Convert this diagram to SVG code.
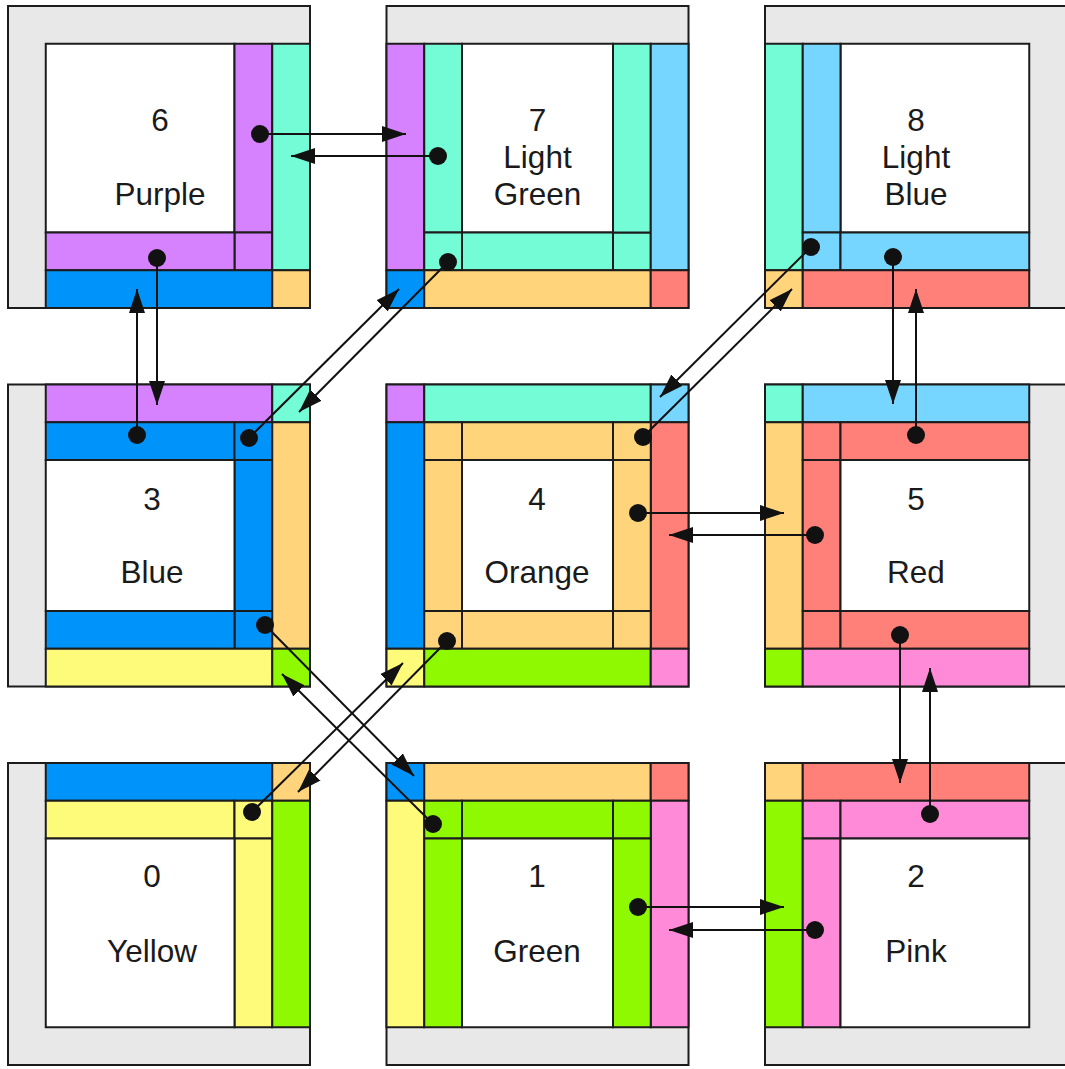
<svg xmlns="http://www.w3.org/2000/svg" width="1065" height="1069" viewBox="0 0 1065 1069">
<style>
rect{stroke:#1c1c1c;stroke-width:2}
.gy{fill:#e8e8e8}.w{fill:#ffffff}
.pu{fill:#d682ff}.lg{fill:#74fcd6}.bl{fill:#0094fa}.lb{fill:#76d6ff}
.or{fill:#ffd47b}.rd{fill:#ff7f79}.ye{fill:#fffb7a}.gr{fill:#8ef900}.pk{fill:#ff8ad8}
text{font-family:"Liberation Sans",Arial,sans-serif;font-size:31.5px;fill:#1a1a1a;text-anchor:middle}
.c line{stroke:#111;stroke-width:2;marker-start:url(#dot);marker-end:url(#ah)}
</style>
<defs>
<marker id="ah" markerUnits="userSpaceOnUse" viewBox="0 0 24 16" refX="24" refY="8" markerWidth="24" markerHeight="16" orient="auto"><path d="M0,0 L24,8 L0,16 z" fill="#111"/></marker>
<marker id="dot" markerUnits="userSpaceOnUse" viewBox="0 0 20 20" refX="10" refY="10" markerWidth="20" markerHeight="20"><circle cx="10" cy="10" r="9" fill="#111"/></marker>
</defs>

<g id="block6" transform="translate(8,6)">
<rect class="gy" x="0" y="0" width="302" height="302"/>
<rect class="w" x="37.75" y="37.75" width="188.75" height="188.75"/>
<rect class="pu" x="226.5" y="37.75" width="37.75" height="188.75"/>
<rect class="pu" x="226.5" y="226.5" width="37.75" height="37.75"/>
<rect class="pu" x="37.75" y="226.5" width="188.75" height="37.75"/>
<rect class="lg" x="264.25" y="37.75" width="37.75" height="226.5"/>
<rect class="bl" x="37.75" y="264.25" width="226.5" height="37.75"/>
<rect class="or" x="264.25" y="264.25" width="37.75" height="37.75"/>
<text x="152" y="125">6</text>
<text x="152" y="199">Purple</text>
</g>

<g id="block7" transform="translate(386.5,6)">
<rect class="gy" x="0" y="0" width="302" height="302"/>
<rect class="w" x="75.5" y="37.75" width="151" height="188.75"/>
<rect class="pu" x="0" y="37.75" width="37.75" height="226.5"/>
<rect class="lg" x="37.75" y="37.75" width="37.75" height="188.75"/>
<rect class="lg" x="37.75" y="226.5" width="37.75" height="37.75"/>
<rect class="lg" x="75.5" y="226.5" width="151" height="37.75"/>
<rect class="lg" x="226.5" y="226.5" width="37.75" height="37.75"/>
<rect class="lg" x="226.5" y="37.75" width="37.75" height="188.75"/>
<rect class="lb" x="264.25" y="37.75" width="37.75" height="226.5"/>
<rect class="bl" x="0" y="264.25" width="37.75" height="37.75"/>
<rect class="or" x="37.75" y="264.25" width="226.5" height="37.75"/>
<rect class="rd" x="264.25" y="264.25" width="37.75" height="37.75"/>
<text x="151" y="125">7</text>
<text x="151" y="162">Light</text>
<text x="151" y="199">Green</text>
</g>

<g id="block8" transform="translate(765,6)">
<rect class="gy" x="0" y="0" width="302" height="302"/>
<rect class="w" x="75.5" y="37.75" width="188.75" height="188.75"/>
<rect class="lg" x="0" y="37.75" width="37.75" height="226.5"/>
<rect class="lb" x="37.75" y="37.75" width="37.75" height="188.75"/>
<rect class="lb" x="37.75" y="226.5" width="37.75" height="37.75"/>
<rect class="lb" x="75.5" y="226.5" width="188.75" height="37.75"/>
<rect class="or" x="0" y="264.25" width="37.75" height="37.75"/>
<rect class="rd" x="37.75" y="264.25" width="226.5" height="37.75"/>
<text x="151" y="125">8</text>
<text x="151" y="162">Light</text>
<text x="151" y="199">Blue</text>
</g>

<g id="block3" transform="translate(8,384.5)">
<rect class="gy" x="0" y="0" width="302" height="302"/>
<rect class="pu" x="37.75" y="0" width="226.5" height="37.75"/>
<rect class="lg" x="264.25" y="0" width="37.75" height="37.75"/>
<rect class="bl" x="37.75" y="37.75" width="188.75" height="37.75"/>
<rect class="bl" x="226.5" y="37.75" width="37.75" height="37.75"/>
<rect class="bl" x="226.5" y="75.5" width="37.75" height="151"/>
<rect class="bl" x="226.5" y="226.5" width="37.75" height="37.75"/>
<rect class="bl" x="37.75" y="226.5" width="188.75" height="37.75"/>
<rect class="w" x="37.75" y="75.5" width="188.75" height="151"/>
<rect class="or" x="264.25" y="37.75" width="37.75" height="226.5"/>
<rect class="ye" x="37.75" y="264.25" width="226.5" height="37.75"/>
<rect class="gr" x="264.25" y="264.25" width="37.75" height="37.75"/>
<text x="144" y="125.5">3</text>
<text x="144" y="198">Blue</text>
</g>

<g id="block4" transform="translate(386.5,384.5)">
<rect class="w" x="0" y="0" width="302" height="302"/>
<rect class="pu" x="0" y="0" width="37.75" height="37.75"/>
<rect class="lg" x="37.75" y="0" width="226.5" height="37.75"/>
<rect class="lb" x="264.25" y="0" width="37.75" height="37.75"/>
<rect class="bl" x="0" y="37.75" width="37.75" height="226.5"/>
<rect class="rd" x="264.25" y="37.75" width="37.75" height="226.5"/>
<rect class="or" x="37.75" y="37.75" width="37.75" height="37.75"/>
<rect class="or" x="75.5" y="37.75" width="151" height="37.75"/>
<rect class="or" x="226.5" y="37.75" width="37.75" height="37.75"/>
<rect class="or" x="37.75" y="75.5" width="37.75" height="151"/>
<rect class="or" x="226.5" y="75.5" width="37.75" height="151"/>
<rect class="or" x="37.75" y="226.5" width="37.75" height="37.75"/>
<rect class="or" x="75.5" y="226.5" width="151" height="37.75"/>
<rect class="or" x="226.5" y="226.5" width="37.75" height="37.75"/>
<rect class="w" x="75.5" y="75.5" width="151" height="151"/>
<rect class="ye" x="0" y="264.25" width="37.75" height="37.75"/>
<rect class="gr" x="37.75" y="264.25" width="226.5" height="37.75"/>
<rect class="pk" x="264.25" y="264.25" width="37.75" height="37.75"/>
<text x="150.5" y="125.5">4</text>
<text x="150.5" y="198">Orange</text>
</g>

<g id="block5" transform="translate(765,384.5)">
<rect class="gy" x="0" y="0" width="302" height="302"/>
<rect class="lg" x="0" y="0" width="37.75" height="37.75"/>
<rect class="lb" x="37.75" y="0" width="226.5" height="37.75"/>
<rect class="or" x="0" y="37.75" width="37.75" height="226.5"/>
<rect class="rd" x="37.75" y="37.75" width="37.75" height="37.75"/>
<rect class="rd" x="75.5" y="37.75" width="188.75" height="37.75"/>
<rect class="rd" x="37.75" y="75.5" width="37.75" height="151"/>
<rect class="rd" x="37.75" y="226.5" width="37.75" height="37.75"/>
<rect class="rd" x="75.5" y="226.5" width="188.75" height="37.75"/>
<rect class="w" x="75.5" y="75.5" width="188.75" height="151"/>
<rect class="gr" x="0" y="264.25" width="37.75" height="37.75"/>
<rect class="pk" x="37.75" y="264.25" width="226.5" height="37.75"/>
<text x="151" y="125.5">5</text>
<text x="151" y="198">Red</text>
</g>

<g id="block0" transform="translate(8,763)">
<rect class="gy" x="0" y="0" width="302" height="302"/>
<rect class="bl" x="37.75" y="0" width="226.5" height="37.75"/>
<rect class="or" x="264.25" y="0" width="37.75" height="37.75"/>
<rect class="ye" x="37.75" y="37.75" width="188.75" height="37.75"/>
<rect class="ye" x="226.5" y="37.75" width="37.75" height="37.75"/>
<rect class="ye" x="226.5" y="75.5" width="37.75" height="188.75"/>
<rect class="gr" x="264.25" y="37.75" width="37.75" height="226.5"/>
<rect class="w" x="37.75" y="75.5" width="188.75" height="188.75"/>
<text x="144" y="124">0</text>
<text x="144" y="199">Yellow</text>
</g>

<g id="block1" transform="translate(386.5,763)">
<rect class="gy" x="0" y="0" width="302" height="302"/>
<rect class="bl" x="0" y="0" width="37.75" height="37.75"/>
<rect class="or" x="37.75" y="0" width="226.5" height="37.75"/>
<rect class="rd" x="264.25" y="0" width="37.75" height="37.75"/>
<rect class="ye" x="0" y="37.75" width="37.75" height="226.5"/>
<rect class="pk" x="264.25" y="37.75" width="37.75" height="226.5"/>
<rect class="gr" x="37.75" y="37.75" width="37.75" height="37.75"/>
<rect class="gr" x="75.5" y="37.75" width="151" height="37.75"/>
<rect class="gr" x="226.5" y="37.75" width="37.75" height="37.75"/>
<rect class="gr" x="37.75" y="75.5" width="37.75" height="188.75"/>
<rect class="gr" x="226.5" y="75.5" width="37.75" height="188.75"/>
<rect class="w" x="75.5" y="75.5" width="151" height="188.75"/>
<text x="150.5" y="124">1</text>
<text x="150.5" y="199">Green</text>
</g>

<g id="block2" transform="translate(765,763)">
<rect class="gy" x="0" y="0" width="302" height="302"/>
<rect class="or" x="0" y="0" width="37.75" height="37.75"/>
<rect class="rd" x="37.75" y="0" width="226.5" height="37.75"/>
<rect class="gr" x="0" y="37.75" width="37.75" height="226.5"/>
<rect class="pk" x="37.75" y="37.75" width="37.75" height="37.75"/>
<rect class="pk" x="75.5" y="37.75" width="188.75" height="37.75"/>
<rect class="pk" x="37.75" y="75.5" width="37.75" height="188.75"/>
<rect class="w" x="75.5" y="75.5" width="188.75" height="188.75"/>
<text x="151" y="124">2</text>
<text x="151" y="199">Pink</text>
</g>

<g id="connectors" class="c">
<line x1="260" y1="134" x2="406" y2="134"/>
<line x1="438" y1="156" x2="291" y2="156"/>
<line x1="157" y1="258" x2="157" y2="405"/>
<line x1="137" y1="435" x2="137" y2="289"/>
<line x1="249" y1="438" x2="399" y2="289"/>
<line x1="448" y1="262" x2="299" y2="412"/>
<line x1="811" y1="247" x2="660" y2="397"/>
<line x1="643" y1="437" x2="792" y2="289"/>
<line x1="893" y1="257" x2="893" y2="404"/>
<line x1="916" y1="435" x2="916" y2="289"/>
<line x1="638" y1="513" x2="784" y2="513"/>
<line x1="815" y1="535" x2="669" y2="535"/>
<line x1="900" y1="635" x2="900" y2="783"/>
<line x1="930" y1="814" x2="930" y2="668"/>
<line x1="265" y1="625" x2="414" y2="776"/>
<line x1="433" y1="824" x2="282" y2="674"/>
<line x1="447" y1="641" x2="298" y2="792"/>
<line x1="252" y1="812" x2="403" y2="663"/>
<line x1="638" y1="907" x2="784" y2="907"/>
<line x1="815" y1="930" x2="669" y2="930"/>
</g>
</svg>
